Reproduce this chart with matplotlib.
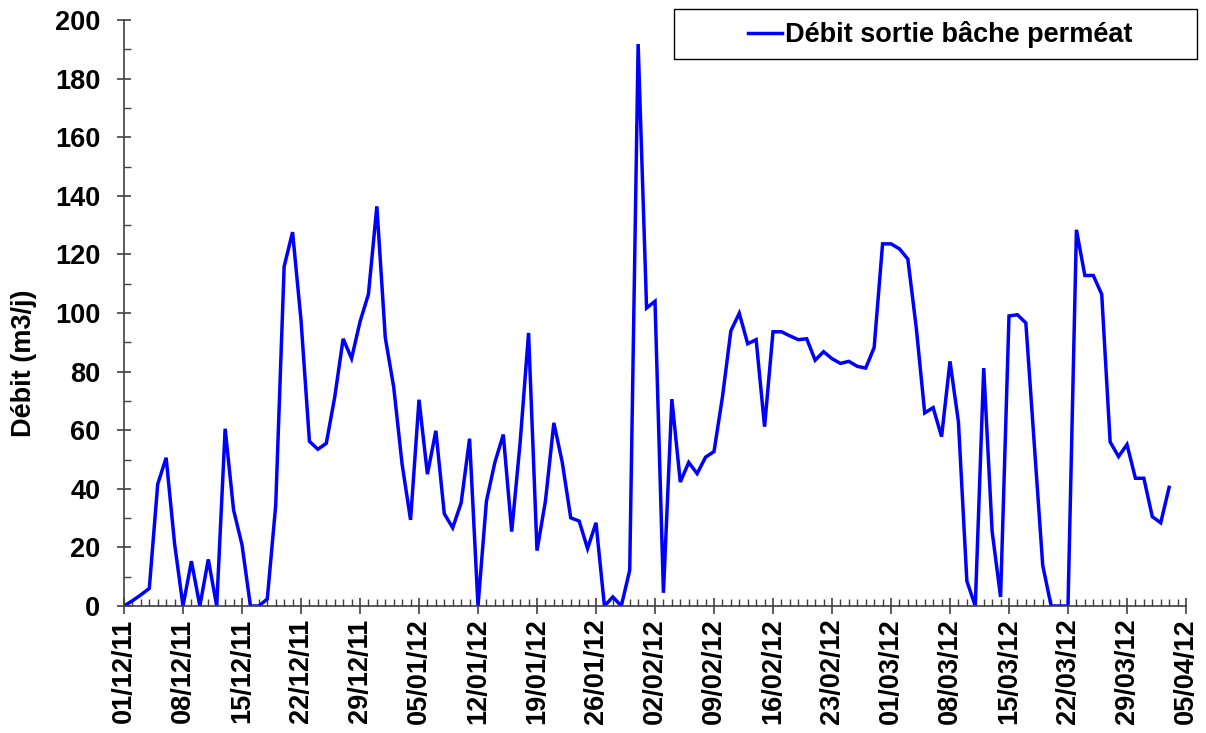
import matplotlib
matplotlib.use("Agg")
import matplotlib.pyplot as plt
import matplotlib.dates as mdates
from matplotlib.ticker import MultipleLocator, FixedLocator
from matplotlib.patches import Rectangle
import pandas as pd

plt.rcParams['font.family'] = ['Liberation Sans', 'DejaVu Sans']
plt.rcParams['font.weight'] = 'bold'

start_date = "2011-12-01"
end_date = "2012-04-05"
series_label = "Débit sortie bâche perméat"
y_label = "Débit (m3/j)"

values = [
    0, 1.8, 3.8, 6, 41.6, 50.6, 21.3, 0, 15.3, 0,
    15.9, 0, 60.5, 32.8, 20.9, 0, 0, 2.4, 34.4, 115.9,
    127.6, 97.6, 56.2, 53.5, 55.5, 71.3, 91.2, 84.5, 97, 106.4,
    136.4, 91.6, 74.7, 48.3, 29.4, 70.4, 45, 59.8, 31.5, 26.7,
    35.2, 57.1, 0, 35.8, 49, 58.5, 25.4, 55.8, 93.2, 18.9,
    35.8, 62.5, 49, 30.1, 29, 19.6, 28.4, 0, 3.1, 0,
    12.2, 191.8, 101.7, 104, 4.5, 70.6, 42.3, 49, 45.2, 50.8,
    52.7, 71.3, 93.9, 99.9, 89.5, 90.9, 61.2, 93.6, 93.6, 92.2,
    90.9, 91.2, 83.9, 86.8, 84.4, 82.8, 83.5, 81.8, 81.2, 88.2,
    123.6, 123.6, 121.9, 118.4, 94.9, 65.9, 67.7, 57.8, 83.5, 62.8,
    8.5, 0, 81.2, 25.4, 3.1, 99, 99.4, 96.6, 55.2, 13.9,
    0, 0, 0, 128.4, 112.8, 112.8, 106.4, 56, 51, 55.1,
    43.6, 43.6, 30.5, 28.4, 40.5,
]

dates = pd.date_range(start_date, periods=len(values), freq="D")

FS = 19.5
W, H = 1206, 733
fig = plt.figure(figsize=(W / 100, H / 100), dpi=100)
ax = fig.add_axes([124 / W, 1 - 606 / H, 1062 / W, 586 / H])

line, = ax.plot(dates, values, color="#0000FF", lw=2.5, label=series_label,
                solid_joinstyle="miter")

ax.set_xlim(pd.Timestamp(start_date), pd.Timestamp(end_date))
ax.set_ylim(0, 200)

ax.xaxis.set_major_locator(FixedLocator(
    mdates.date2num(pd.date_range(start_date, end_date, freq="7D"))))
ax.xaxis.set_major_formatter(mdates.DateFormatter("%d/%m/%y"))
ax.xaxis.set_minor_locator(mdates.DayLocator())
ax.yaxis.set_major_locator(MultipleLocator(20))
ax.yaxis.set_minor_locator(MultipleLocator(10))

for s in ["top", "right"]:
    ax.spines[s].set_visible(False)
for s in ["left", "bottom"]:
    ax.spines[s].set_color("#404040")
    ax.spines[s].set_linewidth(1.2)

ax.tick_params(axis="x", which="major", direction="inout", length=12, width=1.2,
               color="#404040", labelsize=FS, pad=3, rotation=90)
ax.tick_params(axis="x", which="minor", direction="in", length=5, width=1.0,
               color="#404040")
ax.tick_params(axis="y", which="major", direction="inout", length=10, width=1.2,
               color="#404040", labelsize=FS, pad=12)
ax.tick_params(axis="y", which="minor", direction="in", length=5, width=1.0,
               color="#404040")
for lab in ax.get_xticklabels() + ax.get_yticklabels():
    lab.set_fontweight("bold")

ax.set_ylabel(y_label, fontsize=FS, fontweight="bold")
ax.yaxis.set_label_coords(-0.0815, 0.415)

# legend box
fig.patches.append(Rectangle((674 / W, 1 - 59 / H), (1197 - 674) / W, 50 / H,
                             transform=fig.transFigure, facecolor="white",
                             edgecolor="black", lw=1.0, zorder=5))
leg = fig.legend(handles=[line], loc="center left",
                 bbox_to_anchor=(748 / W, 1 - 35 / H),
                 fontsize=FS, frameon=False, handlelength=1.25,
                 handletextpad=0.12, borderpad=0, borderaxespad=0)
leg.set_zorder(6)
for t in leg.get_texts():
    t.set_fontweight("bold")

fig.savefig("out.png", dpi=100)
